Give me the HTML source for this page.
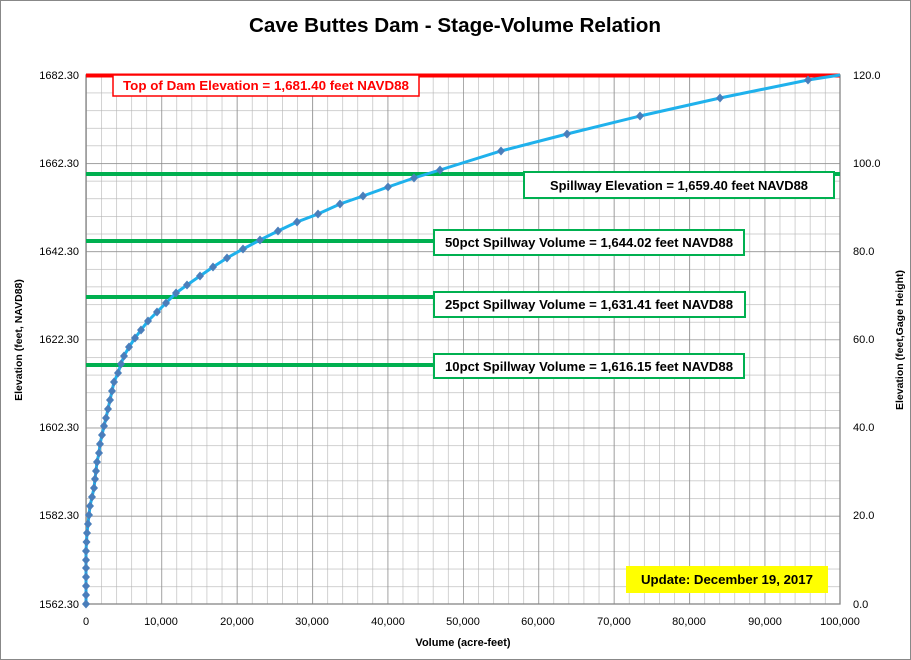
<!DOCTYPE html>
<html><head><meta charset="utf-8"><style>
body{margin:0;background:#fff}
svg{display:block;font-family:"Liberation Sans",Calibri,sans-serif}
</style></head><body>
<svg width="911" height="660" viewBox="0 0 911 660" xmlns="http://www.w3.org/2000/svg" xmlns:xlink="http://www.w3.org/1999/xlink">
<defs>
<pattern id="minor" patternUnits="userSpaceOnUse" x="86" y="75" width="15.08" height="17.633">
<path d="M0 0V17.633M0 0H15.08" stroke="#b4b4b4" stroke-width="1.2" fill="none"/>
</pattern>
<pattern id="major" patternUnits="userSpaceOnUse" x="86" y="75" width="75.4" height="88.167">
<path d="M0 0V88.167M0 0H75.4" stroke="#868686" stroke-width="1.3" fill="none"/>
</pattern>
<polygon id="d" points="0,-4.5 4,0 0,4.5 -4,0" fill="#4a7ebb"/>
</defs>
<rect x="0.5" y="0.5" width="910" height="659" fill="#fff" stroke="#888"/>
<text x="455" y="32" text-anchor="middle" font-size="20" font-weight="bold" textLength="412" lengthAdjust="spacingAndGlyphs">Cave Buttes Dam - Stage-Volume Relation</text>
<rect x="86" y="75" width="754" height="529" fill="url(#minor)"/>
<rect x="86" y="75" width="754" height="529" fill="url(#major)"/>
<rect x="86" y="75" width="754" height="529" fill="none" stroke="#868686" stroke-width="1.3"/>
<g font-size="11" fill="#000">
<text x="79" y="79" text-anchor="end">1682.30</text>
<text x="79" y="167" text-anchor="end">1662.30</text>
<text x="79" y="255" text-anchor="end">1642.30</text>
<text x="79" y="343" text-anchor="end">1622.30</text>
<text x="79" y="431" text-anchor="end">1602.30</text>
<text x="79" y="519" text-anchor="end">1582.30</text>
<text x="79" y="608" text-anchor="end">1562.30</text>
<text x="853" y="79">120.0</text>
<text x="853" y="167">100.0</text>
<text x="853" y="255">80.0</text>
<text x="853" y="343">60.0</text>
<text x="853" y="431">40.0</text>
<text x="853" y="519">20.0</text>
<text x="853" y="608">0.0</text>
<g text-anchor="middle">
<text x="86" y="625">0</text><text x="161" y="625">10,000</text><text x="237" y="625">20,000</text>
<text x="312" y="625">30,000</text><text x="388" y="625">40,000</text><text x="463" y="625">50,000</text>
<text x="538" y="625">60,000</text><text x="614" y="625">70,000</text><text x="689" y="625">80,000</text>
<text x="765" y="625">90,000</text><text x="840" y="625">100,000</text>
</g>
<text x="463" y="646" text-anchor="middle" font-weight="bold">Volume (acre-feet)</text>
<text transform="translate(22,340) rotate(-90)" text-anchor="middle" font-weight="bold" font-size="10.5">Elevation  (feet, NAVD88)</text>
<text transform="translate(903,340) rotate(-90)" text-anchor="middle" font-weight="bold" font-size="10.5">Elevation  (feet,Gage  Height)</text>
</g>
<line x1="86" y1="75.5" x2="840" y2="75.5" stroke="#ff0000" stroke-width="4"/>
<line x1="86" y1="174" x2="840" y2="174" stroke="#00b050" stroke-width="4"/>
<line x1="86" y1="241" x2="434" y2="241" stroke="#00b050" stroke-width="4"/>
<line x1="86" y1="297" x2="434" y2="297" stroke="#00b050" stroke-width="4"/>
<line x1="86" y1="365" x2="434" y2="365" stroke="#00b050" stroke-width="4"/>
<polyline fill="none" stroke="#1fb1ec" stroke-width="3" points="86,604 86,595 86,586 86,577 86,568 86,560 86,551 86.5,542 87,533 88,524 89,515 90,506 92,497 94,488 95,479 96,471 97,462 99,453 100,444 102,435 104,426 106,418 108,409 110,400 112,391 114,382 118,373 121,364 124,356 129,347 135,338 141,330 148,321 157,312 166,303 176,293 187,285 200,276 213,267 227,258 243,249 260,240 278,231 297,222 318,214 340,204 363,196 388,187 414,178 440,170 501,151 567,134 640,116 720,98 808,80 840,75"/>
<g>
<use xlink:href="#d" x="86" y="604"/><use xlink:href="#d" x="86" y="595"/><use xlink:href="#d" x="86" y="586"/><use xlink:href="#d" x="86" y="577"/><use xlink:href="#d" x="86" y="568"/><use xlink:href="#d" x="86" y="560"/><use xlink:href="#d" x="86" y="551"/><use xlink:href="#d" x="86.5" y="542"/><use xlink:href="#d" x="87" y="533"/><use xlink:href="#d" x="88" y="524"/><use xlink:href="#d" x="89" y="515"/><use xlink:href="#d" x="90" y="506"/><use xlink:href="#d" x="92" y="497"/><use xlink:href="#d" x="94" y="488"/><use xlink:href="#d" x="95" y="479"/><use xlink:href="#d" x="96" y="471"/><use xlink:href="#d" x="97" y="462"/><use xlink:href="#d" x="99" y="453"/><use xlink:href="#d" x="100" y="444"/><use xlink:href="#d" x="102" y="435"/><use xlink:href="#d" x="104" y="426"/><use xlink:href="#d" x="106" y="418"/><use xlink:href="#d" x="108" y="409"/><use xlink:href="#d" x="110" y="400"/><use xlink:href="#d" x="112" y="391"/><use xlink:href="#d" x="114" y="382"/><use xlink:href="#d" x="118" y="373"/><use xlink:href="#d" x="121" y="364"/><use xlink:href="#d" x="124" y="356"/><use xlink:href="#d" x="129" y="347"/><use xlink:href="#d" x="135" y="338"/><use xlink:href="#d" x="141" y="330"/><use xlink:href="#d" x="148" y="321"/><use xlink:href="#d" x="157" y="312"/><use xlink:href="#d" x="166" y="303"/><use xlink:href="#d" x="176" y="293"/><use xlink:href="#d" x="187" y="285"/><use xlink:href="#d" x="200" y="276"/><use xlink:href="#d" x="213" y="267"/><use xlink:href="#d" x="227" y="258"/><use xlink:href="#d" x="243" y="249"/><use xlink:href="#d" x="260" y="240"/><use xlink:href="#d" x="278" y="231"/><use xlink:href="#d" x="297" y="222"/><use xlink:href="#d" x="318" y="214"/><use xlink:href="#d" x="340" y="204"/><use xlink:href="#d" x="363" y="196"/><use xlink:href="#d" x="388" y="187"/><use xlink:href="#d" x="414" y="178"/><use xlink:href="#d" x="440" y="170"/><use xlink:href="#d" x="501" y="151"/><use xlink:href="#d" x="567" y="134"/><use xlink:href="#d" x="640" y="116"/><use xlink:href="#d" x="720" y="98"/><use xlink:href="#d" x="808" y="80"/>
</g>
<rect x="113" y="75" width="306" height="21" fill="#fff" stroke="#ff0000" stroke-width="1.5"/>
<text x="266" y="90" text-anchor="middle" font-size="12.5" font-weight="bold" fill="#ff0000" textLength="286" lengthAdjust="spacingAndGlyphs">Top of Dam Elevation = 1,681.40  feet NAVD88</text>
<g fill="#fff" stroke="#00b050" stroke-width="2">
<rect x="524" y="172" width="310" height="26"/>
<rect x="434" y="230" width="310" height="25"/>
<rect x="434" y="292" width="311" height="25"/>
<rect x="434" y="354" width="310" height="24"/>
</g>
<g font-size="12.5" font-weight="bold" text-anchor="middle">
<text x="679" y="190" textLength="258" lengthAdjust="spacingAndGlyphs">Spillway Elevation = 1,659.40  feet NAVD88</text>
<text x="589" y="247" textLength="288" lengthAdjust="spacingAndGlyphs">50pct Spillway Volume = 1,644.02  feet NAVD88</text>
<text x="589" y="309" textLength="288" lengthAdjust="spacingAndGlyphs">25pct Spillway Volume = 1,631.41  feet NAVD88</text>
<text x="589" y="371" textLength="288" lengthAdjust="spacingAndGlyphs">10pct Spillway Volume = 1,616.15  feet NAVD88</text>
</g>
<rect x="626" y="566" width="202" height="27" fill="#ffff00"/>
<text x="727" y="584" text-anchor="middle" font-size="12.5" font-weight="bold" textLength="172" lengthAdjust="spacingAndGlyphs">Update: December 19, 2017</text>
</svg>
</body></html>
